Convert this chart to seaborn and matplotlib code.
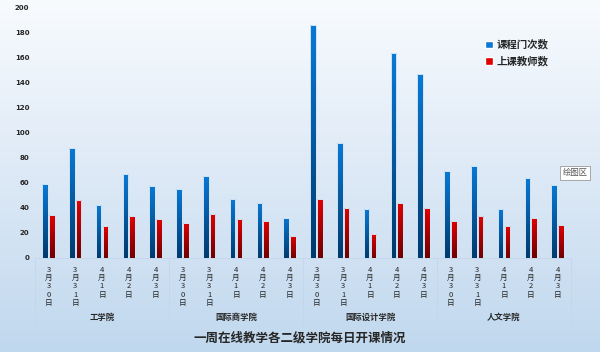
import numpy as np
import pandas as pd
import seaborn as sns
import matplotlib.pyplot as plt
from matplotlib.colors import LinearSegmentedColormap
from matplotlib import transforms

colleges = ['工学院', '国际商学院', '国际设计学院', '人文学院']
dates = ['3月30日', '3月31日', '4月1日', '4月2日', '4月3日']
series = ['课程门次数', '上课教师数']

courses = [59, 88, 42, 67, 57,
           55, 65, 47, 44, 32,
           186, 92, 39, 164, 147,
           69, 73, 39, 64, 58]
teachers = [34, 46, 25, 33, 31,
            28, 35, 31, 29, 17,
            47, 40, 19, 44, 40,
            29, 33, 25, 32, 26]

yticks = list(range(0, 201, 20))

# long table for seaborn
keys = [f'{c}|{d}' for c in colleges for d in dates]
df = pd.DataFrame({
    'key': keys * 2,
    'value': courses + teachers,
    'series': [series[0]] * len(keys) + [series[1]] * len(keys),
})

sns.set_style('white')
plt.rcParams['font.family'] = ['Noto Sans CJK SC', 'DejaVu Sans']

fig = plt.figure(figsize=(6, 3.52), dpi=100)

# figure background gradient
bg = fig.add_axes([0, 0, 1, 1], zorder=-10)
bg_cmap = LinearSegmentedColormap.from_list('bg', ['#f8fbfe', '#dde9f6', '#c0d8ee'])
bg.imshow(np.linspace(0, 1, 256).reshape(-1, 1), aspect='auto', cmap=bg_cmap,
          extent=[0, 1, 0, 1], origin='upper')
bg.axis('off')

ax = fig.add_axes([35 / 600, 1 - 257.5 / 352, 536 / 600, 250 / 352])
ax.patch.set_alpha(0)

palette = {series[0]: '#0a78d4', series[1]: '#e00000'}
sns.barplot(data=df, x='key', y='value', hue='series', order=keys,
            hue_order=series, palette=palette, width=0.5, gap=0.15,
            ax=ax, saturation=1)

# vertical gradient inside each bar, clipped to the bar shape
blue_cmap = LinearSegmentedColormap.from_list('b', ['#00386a', '#0a7ad6'])
red_cmap = LinearSegmentedColormap.from_list('r', ['#680000', '#e80000'])
grad = np.linspace(0, 1, 128).reshape(-1, 1)
for p in list(ax.patches):
    h = p.get_height()
    if h <= 0:
        continue
    x, w = p.get_x(), p.get_width()
    fc = p.get_facecolor()
    cm = blue_cmap if fc[2] > fc[0] else red_cmap
    im = ax.imshow(grad, extent=[x - 0.2, x + w + 0.2, -2, h + 2], aspect='auto',
                   cmap=cm, origin='lower', zorder=3, interpolation='bilinear')
    im.set_clip_path(p)
    p.set_facecolor('none')
    p.set_edgecolor('#d2e6f8')
    p.set_linewidth(0.7)
    p.set_zorder(4)

ax.set_xlim(-0.5, len(keys) - 0.5)
ax.set_ylim(0, 200)
ax.set_yticks(yticks)
ax.set_yticklabels([str(v) for v in yticks], fontsize=5, fontweight='bold',
                   family='DejaVu Sans')
ax.tick_params(axis='y', length=0, pad=4)

ax.set_xticks(range(len(keys)))
ax.set_xticklabels(['\n'.join(d) for c in colleges for d in dates],
                   fontsize=5.5, linespacing=1.05, va='top')
ax.tick_params(axis='x', length=0, pad=6)
ax.set_xlabel('')
ax.set_ylabel('')
for s in ax.spines.values():
    s.set_visible(False)

# category row below date labels
tr = transforms.blended_transform_factory(ax.transData, ax.transAxes)
for i in range(len(colleges) + 1):
    ax.plot([i * 5 - 0.5] * 2, [0, -0.265], transform=tr, clip_on=False,
            color='#c3d6ea', lw=0.6)
ax.plot([-0.5, len(keys) - 0.5], [0, 0], transform=tr, clip_on=False,
        color='#c3d6ea', lw=0.6)
for i, c in enumerate(colleges):
    ax.text(i * 5 + 2, -0.238, c, transform=tr, ha='center', va='center',
            fontsize=6, fontweight='bold')

handles, labels = ax.get_legend_handles_labels()
ax.legend(handles, labels, loc='upper left', bbox_to_anchor=(476 / 600, 1 - 30 / 352),
          bbox_transform=fig.transFigure, frameon=False,
          handlelength=0.7, handleheight=0.7, handletextpad=0.4,
          labelspacing=0.6, prop={'weight': 'bold', 'size': 7.5})

fig.text(0.5, 1 - 338 / 352, '一周在线教学各二级学院每日开课情况',
         ha='center', va='center', fontsize=9, fontweight='bold')

fig.text(575 / 600, 1 - 173 / 352, '绘图区', ha='center', va='center',
         fontsize=6, color='#555555',
         bbox=dict(boxstyle='square,pad=0.35', fc='white', ec='#9a9a9a', lw=0.6))

fig.savefig('out.png', dpi=100)
